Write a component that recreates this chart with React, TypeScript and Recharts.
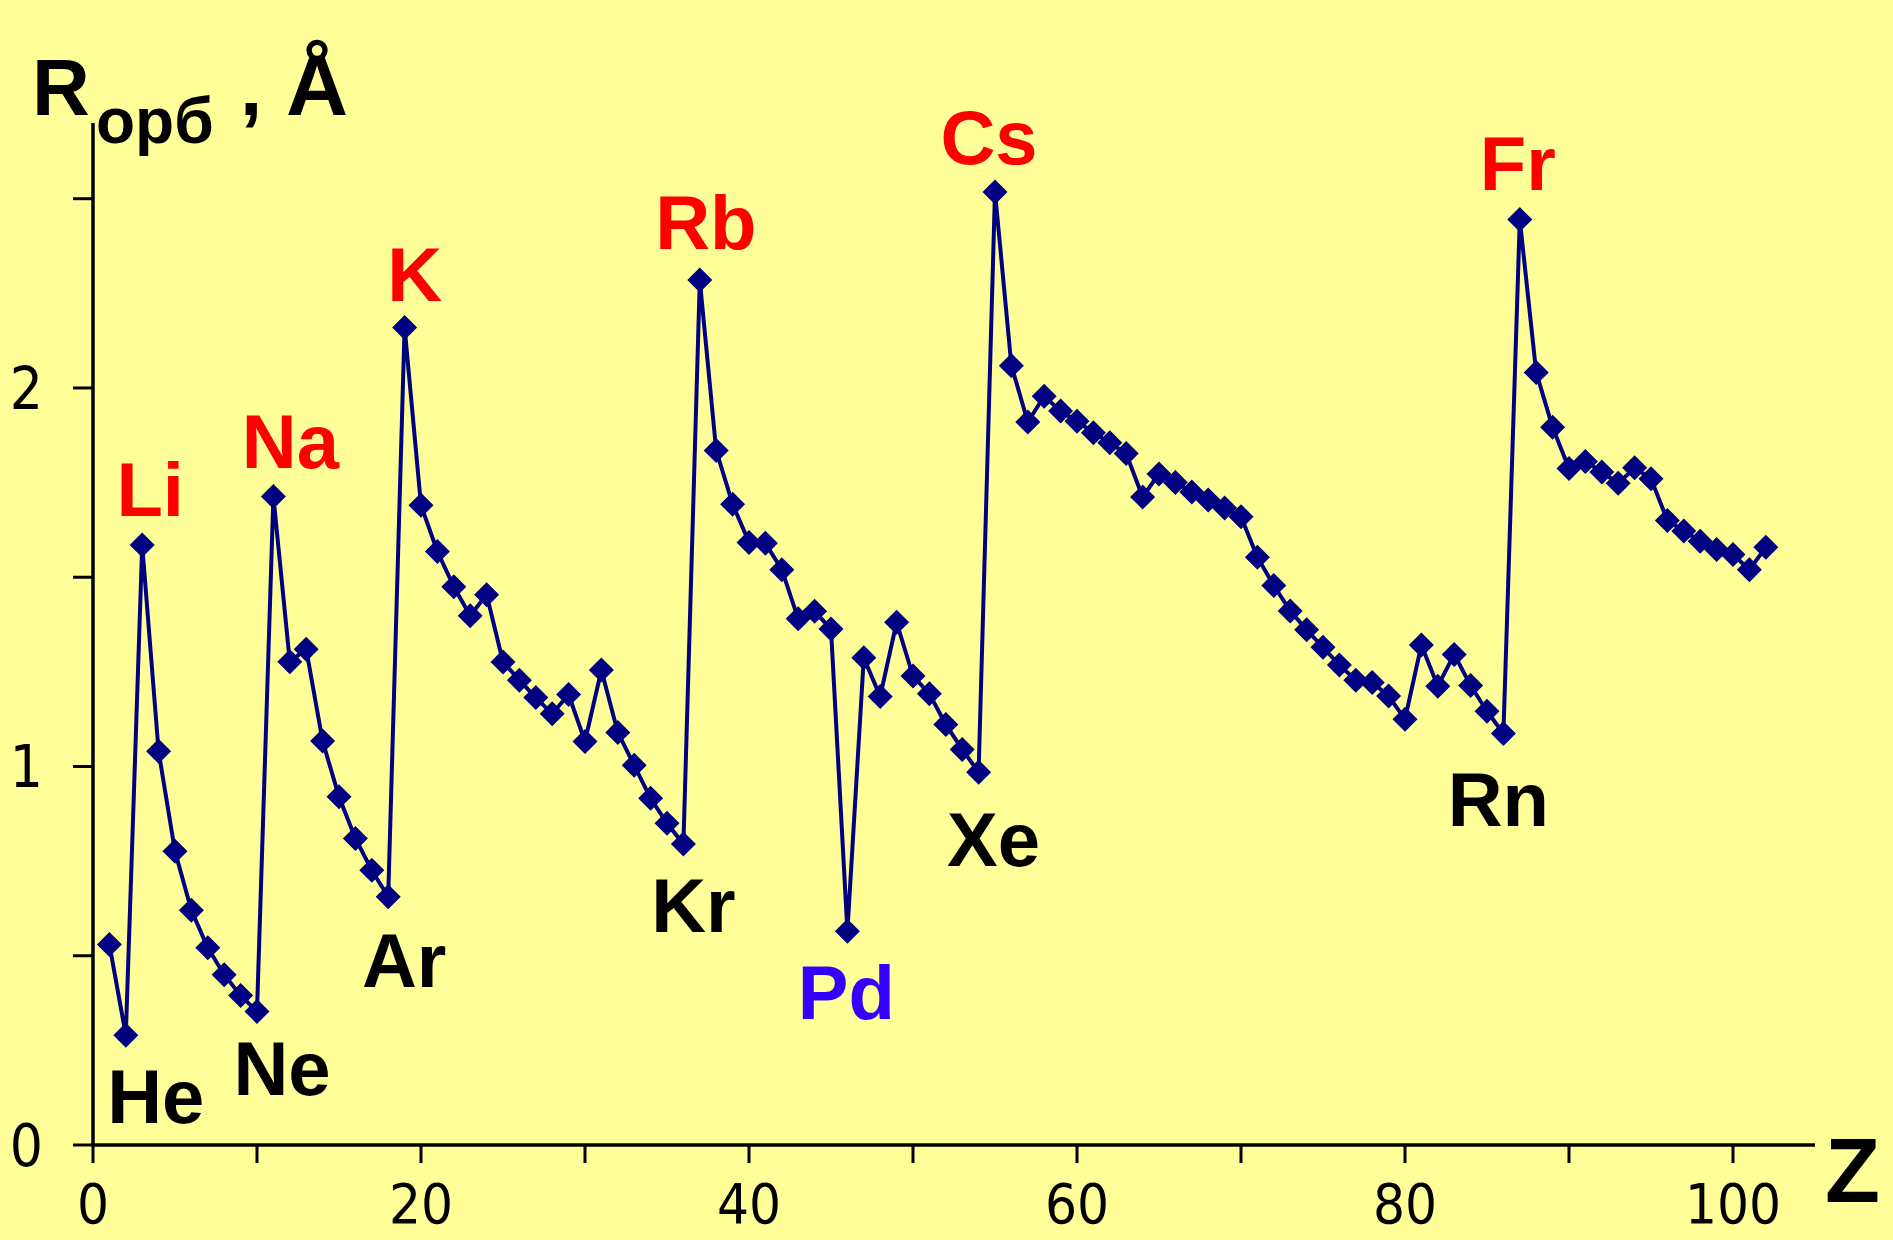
import React from 'react';
import { LineChart, Line, XAxis, YAxis, LabelList } from 'recharts';

// atomic number Z
const atomicNumbers = [
  1, 2, 3, 4, 5, 6, 7, 8, 9, 10,
  11, 12, 13, 14, 15, 16, 17, 18, 19, 20,
  21, 22, 23, 24, 25, 26, 27, 28, 29, 30,
  31, 32, 33, 34, 35, 36, 37, 38, 39, 40,
  41, 42, 43, 44, 45, 46, 47, 48, 49, 50,
  51, 52, 53, 54, 55, 56, 57, 58, 59, 60,
  61, 62, 63, 64, 65, 66, 67, 68, 69, 70,
  71, 72, 73, 74, 75, 76, 77, 78, 79, 80,
  81, 82, 83, 84, 85, 86, 87, 88, 89, 90,
  91, 92, 93, 94, 95, 96, 97, 98, 99, 100,
  101, 102,
];

// orbital radius, Å
const radii = [
  0.53, 0.29, 1.585, 1.04, 0.776, 0.62, 0.521, 0.45, 0.395, 0.353,
  1.713, 1.277, 1.31, 1.067, 0.92, 0.81, 0.726, 0.656, 2.16, 1.69,
  1.568, 1.475, 1.398, 1.454, 1.276, 1.228, 1.182, 1.139, 1.19, 1.066,
  1.255, 1.09, 1.003, 0.916, 0.85, 0.795, 2.285, 1.835, 1.693, 1.592,
  1.59, 1.52, 1.39, 1.41, 1.363, 0.565, 1.287, 1.185, 1.381, 1.239,
  1.192, 1.111, 1.045, 0.985, 2.518, 2.059, 1.91, 1.978, 1.939, 1.912,
  1.882, 1.855, 1.827, 1.712, 1.773, 1.75, 1.725, 1.704, 1.683, 1.66,
  1.553, 1.478, 1.411, 1.361, 1.315, 1.268, 1.228, 1.222, 1.186, 1.125,
  1.321, 1.212, 1.296, 1.214, 1.146, 1.087, 2.445, 2.041, 1.896, 1.787,
  1.806, 1.778, 1.748, 1.789, 1.76, 1.65, 1.622, 1.595, 1.573, 1.56,
  1.52, 1.579,
];

// labelled elements
const labelZ = [2, 3, 10, 11, 18, 19, 36, 37, 46, 54, 55, 86, 87];
const labelSymbols = ['He', 'Li', 'Ne', 'Na', 'Ar', 'K', 'Kr', 'Rb', 'Pd', 'Xe', 'Cs', 'Rn', 'Fr'];

const xTicks = [0, 10, 20, 30, 40, 50, 60, 70, 80, 90, 100];
const yTicks = [0, 0.5, 1, 1.5, 2, 2.5];

const data = atomicNumbers.map((z, i) => {
  const k = labelZ.indexOf(z);
  return { z, r: radii[i], label: k >= 0 ? labelSymbols[k] : '' };
});

const RED = '#FF0000';
const BLACK = '#000000';
const labelStyle = {
  Li: { dx: 8, dy: -29, color: RED },
  Na: { dx: 17, dy: -29, color: RED },
  K: { dx: 10, dy: -26, color: RED },
  Rb: { dx: 6, dy: -31, color: RED },
  Cs: { dx: -6, dy: -28, color: RED },
  Fr: { dx: -2, dy: -30, color: RED },
  He: { dx: 30, dy: 88, color: BLACK },
  Ne: { dx: 25, dy: 84, color: BLACK },
  Ar: { dx: 16, dy: 90, color: BLACK },
  Kr: { dx: 10, dy: 88, color: BLACK },
  Pd: { dx: -1, dy: 88, color: '#3300FF' },
  Xe: { dx: 15, dy: 94, color: BLACK },
  Rn: { dx: -5, dy: 92, color: BLACK },
};

const tickFont = '"Liberation Sans Narrow", "DejaVu Sans Condensed", "Liberation Sans", Arial, sans-serif';
const boldFont = '"Liberation Sans", Arial, Helvetica, sans-serif';

const XTick = (props) => {
  const { x, y, payload } = props;
  if (payload.value % 20 !== 0) return null;
  return (
    <text x={x} y={y} dy="0.74em" textAnchor="middle" fontSize={56} fontFamily={tickFont} fill="#000">
      {payload.value}
    </text>
  );
};

const YTick = (props) => {
  const { x, y, payload } = props;
  if (payload.value % 1 !== 0) return null;
  return (
    <text x={x} y={y} dy="0.36em" textAnchor="end" fontSize={58} fontFamily={tickFont} fill="#000">
      {payload.value}
    </text>
  );
};

const Diamond = (props) => {
  const { cx, cy } = props;
  if (cx == null || cy == null) return null;
  const s = 12.5;
  return (
    <polygon
      points={`${cx},${cy - s} ${cx + s},${cy} ${cx},${cy + s} ${cx - s},${cy}`}
      fill="#000080"
    />
  );
};

const ElementLabel = (props) => {
  const { value } = props;
  if (!value) return null;
  const x = props.x ?? props.viewBox?.x;
  const y = props.y ?? props.viewBox?.y;
  const st = labelStyle[value];
  return (
    <text x={x + st.dx} y={y + st.dy} textAnchor="middle" fontSize={76} fontWeight="bold" fontFamily={boldFont} fill={st.color}>
      {value}
    </text>
  );
};

const YTitle = (props) => {
  const vb = props.viewBox;
  const left = vb.x;
  const top = vb.y;
  return (
    <text fontWeight="bold" fontFamily={boldFont} fill="#000">
      <tspan x={left + 32} y={top - 8} fontSize={80}>R</tspan>
      <tspan x={left + 96} y={top + 20} fontSize={64}>орб</tspan>
      <tspan x={left + 240} y={top - 8} fontSize={80}>,</tspan>
      <tspan x={left + 286} y={top - 8} fontSize={86}>Å</tspan>
    </text>
  );
};

const ZTitle = (props) => {
  const vb = props.viewBox;
  return (
    <text x={vb.x + vb.width + 10} y={vb.y + 57} fontSize={90} fontWeight="bold" fontFamily={boldFont} fill="#000">
      Z
    </text>
  );
};

export default function App() {
  return (
    <div style={{ position: 'absolute', left: 0, top: 0, width: 1893, height: 1240, background: '#FFFF99' }}>
      <LineChart width={1893} height={1240} data={data} margin={{ top: 123, right: 78, bottom: 0, left: 0 }}>
        <XAxis
          dataKey="z"
          type="number"
          domain={[0, 105]}
          ticks={xTicks}
          interval={0}
          height={95}
          tickSize={18}
          tickMargin={19}
          tick={<XTick />}
          axisLine={{ stroke: '#000', strokeWidth: 3.5 }}
          tickLine={{ stroke: '#000', strokeWidth: 3 }}
          label={{ content: <ZTitle /> }}
        />
        <YAxis
          type="number"
          domain={[0, 2.7]}
          ticks={yTicks}
          interval={0}
          width={93}
          tickSize={20}
          tickMargin={30}
          tick={<YTick />}
          axisLine={{ stroke: '#000', strokeWidth: 3.5 }}
          tickLine={{ stroke: '#000', strokeWidth: 3 }}
          label={{ content: <YTitle /> }}
        />
        <Line
          dataKey="r"
          type="linear"
          stroke="#000080"
          strokeWidth={4}
          dot={<Diamond />}
          activeDot={false}
          isAnimationActive={false}
        >
          <LabelList dataKey="label" content={<ElementLabel />} />
        </Line>
      </LineChart>
    </div>
  );
}
